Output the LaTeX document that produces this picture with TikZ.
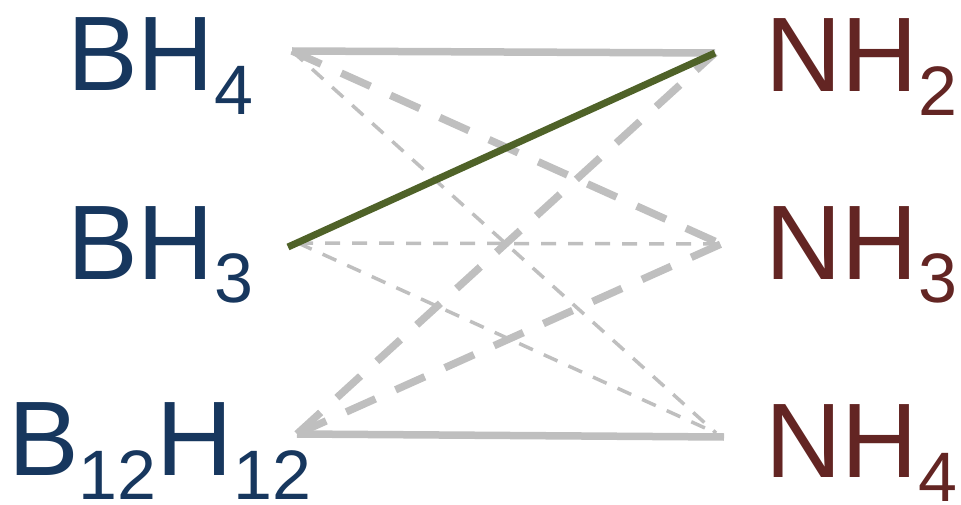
\documentclass[tikz,border=0pt]{standalone}
\usepackage{fontspec}
\setmainfont{Liberation Sans}
\definecolor{boronblue}{HTML}{17375E}
\definecolor{nitrored}{HTML}{632523}
\definecolor{linkgreen}{HTML}{4F6228}
\definecolor{linkgray}{HTML}{BFBFBF}
\newcommand{\chemsub}[1]{\raisebox{-24pt}{\fontsize{70}{70}\selectfont #1}}
\tikzset{
  boronlabel/.style={anchor=base west, inner sep=0pt, text=boronblue, font=\fontsize{106}{106}\selectfont},
  nitrolabel/.style={anchor=base west, inner sep=0pt, text=nitrored, font=\fontsize{106}{106}\selectfont},
  solidlink/.style={draw=linkgray, line width=7.5pt},
  thickdash/.style={draw=linkgray, line width=7.5pt, dash pattern=on 32pt off 22pt},
  thindash/.style={draw=linkgray, line width=3.5pt, dash pattern=on 15pt off 12pt},
  greenlink/.style={draw=linkgreen, line width=7pt}
}
\begin{document}
\begin{tikzpicture}[x=1pt, y=-1pt]
\useasboundingbox (0,0) rectangle (961,505);
% labels
\node[boronlabel] (bh4) at (67,91) {BH\chemsub{4}};
\node[boronlabel] (bh3) at (67,279) {BH\chemsub{3}};
\node[boronlabel] (b12) at (8,475) {B\chemsub{12}H\chemsub{12}};
\node[nitrolabel] (nh2) at (765,92) {NH\chemsub{2}};
\node[nitrolabel] (nh3) at (765,279) {NH\chemsub{3}};
\node[nitrolabel] (nh4) at (765,477) {NH\chemsub{4}};
% connector end points
\coordinate (pbh4) at (292,51);
\coordinate (pbh3) at (298,243);
\coordinate (pbh3g) at (288,247);
\coordinate (pb12) at (297,434);
\coordinate (pnh2) at (715,53);
\coordinate (pnh3) at (721,244);
\coordinate (pnh4) at (716,433);
\coordinate (pnh4s) at (724,437);
% links
\draw[thindash] (pbh4) -- (pnh4);
\draw[thindash] (pbh3) -- (pnh3);
\draw[thindash] (pbh3) -- (pnh4);
\draw[thickdash] (pbh4) -- (pnh3);
\draw[thickdash] (pb12) -- (pnh2);
\draw[thickdash] (pb12) -- (pnh3);
\draw[solidlink] (pbh4) -- (pnh2);
\draw[solidlink] (pb12) -- (pnh4s);
\draw[greenlink] (pbh3g) -- (pnh2);
\end{tikzpicture}
\end{document}
